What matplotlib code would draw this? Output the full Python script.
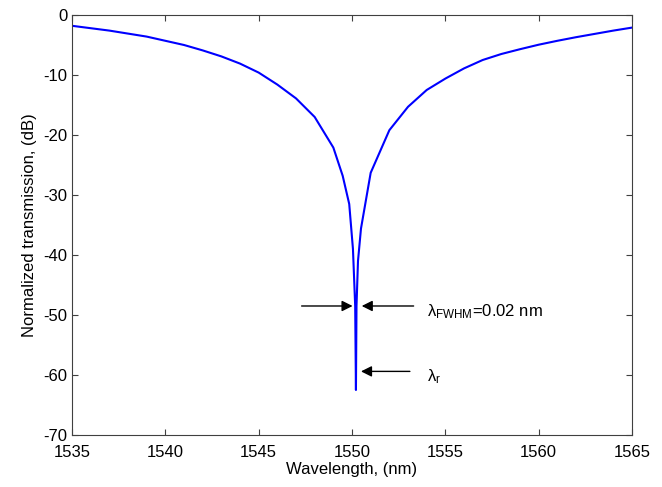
"""
Ring resonator transmission spectrum (MATLAB-style figure)
x: wavelength (nm), y: normalized transmission (dB)
"""

import matplotlib
matplotlib.use('Agg')
import matplotlib.pyplot as plt

plt.rcParams['font.family'] = ['Liberation Sans', 'DejaVu Sans']
plt.rcParams['mathtext.fontset'] = 'custom'
plt.rcParams['mathtext.rm'] = 'Liberation Sans'
plt.rcParams['axes.unicode_minus'] = False

# values
wavelength = [1535, 1536, 1537, 1538, 1539, 1540, 1541, 1542, 1543, 1544,
              1545, 1546, 1547, 1548, 1549, 1549.5, 1549.85, 1550.05, 1550.17,
              1550.21, 1550.24, 1550.32, 1550.48, 1551, 1552, 1553, 1554, 1555,
              1556, 1557, 1558, 1559, 1560, 1561, 1562, 1563, 1564, 1565]
transmission_db = [-1.8, -2.2, -2.6, -3.1, -3.6, -4.3, -5.0, -5.9, -6.9, -8.1,
                   -9.6, -11.6, -13.9, -17.0, -22.1, -26.8, -31.5, -39.0, -48.5,
                   -62.5, -48.5, -41.0, -35.6, -26.3, -19.2, -15.3, -12.5, -10.6,
                   -8.9, -7.5, -6.5, -5.7, -4.95, -4.3, -3.7, -3.15, -2.6, -2.1]

x_ticks = [1535, 1540, 1545, 1550, 1555, 1560, 1565]
y_ticks = [0, -10, -20, -30, -40, -50, -60, -70]

fig = plt.figure(figsize=(6.62, 4.87), dpi=100)
ax = fig.add_axes([0.1088, 0.1068, 0.8459, 0.8624])

ax.plot(wavelength, transmission_db, color='#0000ff', linewidth=1.5)

# FWHM の矢印
arrow = dict(arrowstyle='-|>', color='k', lw=1.0, mutation_scale=16,
             shrinkA=0, shrinkB=0)
ax.annotate('', xy=(1550.03, -48.5), xytext=(1547.3, -48.5), arrowprops=arrow)
ax.annotate('', xy=(1550.52, -48.5), xytext=(1553.3, -48.5), arrowprops=arrow)
ax.annotate('', xy=(1550.48, -59.4), xytext=(1553.1, -59.4), arrowprops=arrow)

ax.text(1554.0, -49.4, r'$\mathregular{\lambda_{FWHM}}$=0.02 nm', fontsize=12,
        va='center', ha='left')
ax.text(1554.0, -60.2, r'$\mathregular{\lambda_{r}}$', fontsize=12,
        va='center', ha='left')

# 軸設定
ax.set_xlim(1535, 1565)
ax.set_ylim(-70, 0)
ax.set_xticks(x_ticks)
ax.set_yticks(y_ticks)
ax.tick_params(direction='in', top=True, right=True, labelsize=12,
               length=4, color='#404040')
ax.tick_params(axis='x', pad=7)
for sp in ax.spines.values():
    sp.set_color('#404040')
    sp.set_linewidth(0.8)

ax.set_xlabel('Wavelength, (nm)', fontsize=12, labelpad=2)
ax.set_ylabel('Normalized transmission, (dB)', fontsize=12, labelpad=4)

fig.savefig('out.png', dpi=100)
